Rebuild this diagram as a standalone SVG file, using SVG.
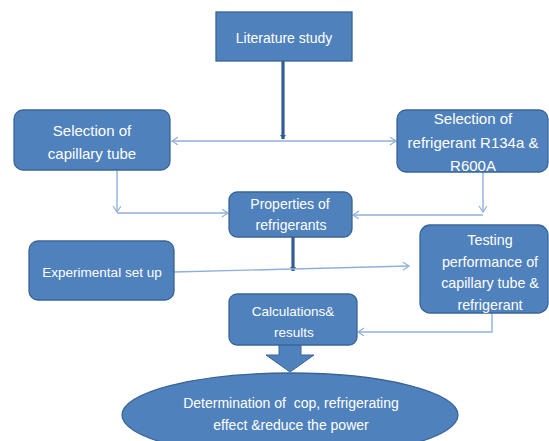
<svg xmlns="http://www.w3.org/2000/svg" width="549" height="441" viewBox="0 0 549 441">
<defs>
<style>
.box{fill:#4F81BD;stroke:#3A6496;stroke-width:1.3}
.t{fill:#ffffff;font-family:"Liberation Sans",Arial,sans-serif;text-anchor:middle;dominant-baseline:central}
.thin{fill:none;stroke:#8FB0DA;stroke-width:1.4}
.thick{fill:none;stroke:#345C93;stroke-width:3.2}
</style>
<marker id="open" markerWidth="10" markerHeight="10" refX="7" refY="4" orient="auto" markerUnits="userSpaceOnUse">
<path d="M1,0 L7,4 L1,8" fill="none" stroke="#8FB0DA" stroke-width="1.2"/>
</marker>
<marker id="solid" markerWidth="10" markerHeight="10" refX="4" refY="3" orient="auto" markerUnits="userSpaceOnUse">
<path d="M0,0 L4,3 L0,6 Z" fill="#345C93"/>
</marker>
</defs>
<rect width="549" height="441" fill="#ffffff"/>

<g id="connectors">
<line class="thick" x1="283" y1="61" x2="283" y2="139" marker-end="url(#solid)"/>
<line class="thin" x1="283" y1="141" x2="172" y2="141" marker-end="url(#open)"/>
<line class="thin" x1="283" y1="141" x2="396" y2="141" marker-end="url(#open)"/>
<line class="thin" x1="117" y1="170" x2="117" y2="212" marker-end="url(#open)"/>
<line class="thin" x1="117" y1="213" x2="228" y2="213" marker-end="url(#open)"/>
<line class="thin" x1="483" y1="172" x2="483" y2="212" marker-end="url(#open)"/>
<line class="thin" x1="483" y1="215" x2="353" y2="215" marker-end="url(#open)"/>
<line class="thick" x1="293" y1="237" x2="293" y2="271" marker-end="url(#solid)"/>
<path class="thin" d="M174,272 L409,266" marker-end="url(#open)"/>
<path class="thin" d="M492,313 L492,332 L358,332" marker-end="url(#open)"/>
<path d="M279,340 L301,340 L301,355 L314,355 L290,372 L266,355 L279,355 Z" fill="#4F81BD" stroke="#3A6496" stroke-width="1"/>
</g>

<g id="literature">
<rect class="box" x="216" y="12" width="136" height="49"/>
<text class="t" x="284" y="38" font-size="14">Literature study</text>
</g>

<g id="capillary">
<rect class="box" x="14" y="110" width="156" height="60" rx="9"/>
<text class="t" x="92" y="130" font-size="15">Selection of</text>
<text class="t" x="92" y="153" font-size="15">capillary tube</text>
</g>

<g id="refrigerant">
<rect class="box" x="397" y="110" width="151" height="62" rx="9"/>
<text class="t" x="473" y="118" font-size="15">Selection of</text>
<text class="t" x="473" y="142" font-size="15">refrigerant R134a &amp;</text>
<text class="t" x="473" y="165" font-size="15">R600A</text>
</g>

<g id="properties">
<rect class="box" x="229" y="192" width="123" height="45" rx="8"/>
<text class="t" x="290" y="204" font-size="14">Properties of</text>
<text class="t" x="291" y="225" font-size="14">refrigerants</text>
</g>

<g id="experimental">
<rect class="box" x="29" y="241" width="145" height="59" rx="9"/>
<text class="t" x="102" y="272" font-size="13.5">Experimental set up</text>
</g>

<g id="testing">
<rect class="box" x="420" y="225" width="128" height="88" rx="10"/>
<text class="t" x="490" y="240" font-size="14.3">Testing</text>
<text class="t" x="490" y="262" font-size="14.3">performance of</text>
<text class="t" x="490" y="283" font-size="14.3">capillary tube &amp;</text>
<text class="t" x="490" y="305" font-size="14.3">refrigerant</text>
</g>

<g id="calculations">
<rect class="box" x="229" y="294" width="128" height="51" rx="8"/>
<text class="t" x="293" y="311" font-size="13.5">Calculations&amp;</text>
<text class="t" x="294" y="332" font-size="13.5">results</text>
</g>

<g id="determination">
<ellipse class="box" cx="290" cy="415" rx="168" ry="42"/>
<text class="t" x="291" y="403" font-size="14" xml:space="preserve">Determination of  cop, refrigerating</text>
<text class="t" x="291" y="425" font-size="14">effect &amp;reduce the power</text>
</g>
</svg>
